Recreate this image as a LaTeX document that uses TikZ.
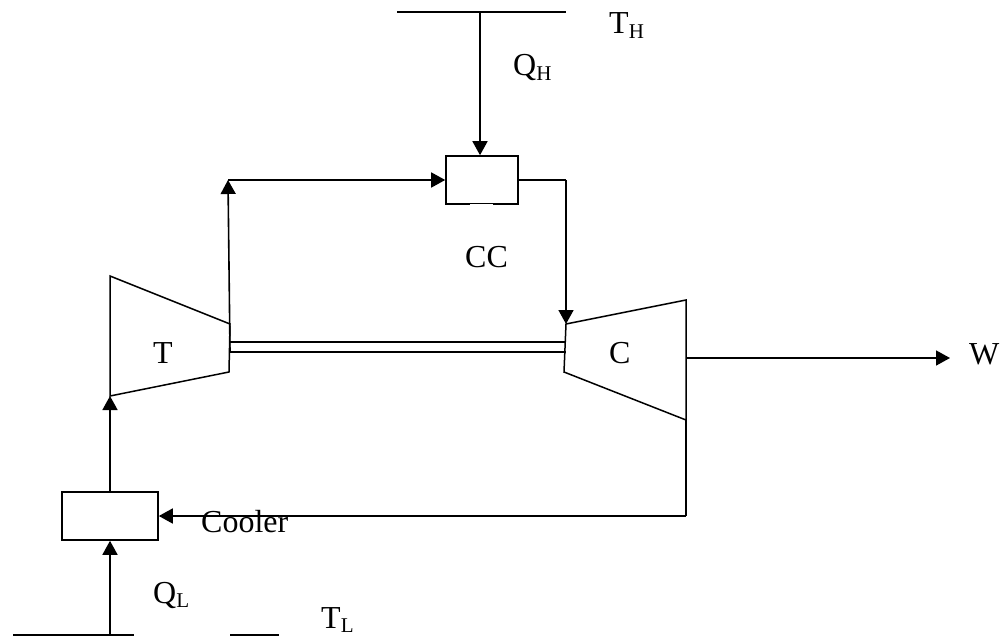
\documentclass[tikz,border=0pt]{standalone}
\usepackage{fontspec}
\setmainfont{Liberation Serif}
\usetikzlibrary{arrows.meta}
\tikzset{
 px/.style={x=1pt,y=-1pt},
 ln/.style={draw=black,line width=1.6pt},
 thin ln/.style={draw=black,line width=1.5pt},
 arr/.style={ln,-{Triangle[length=14pt,width=15pt]}},
 lbl/.style={inner sep=0pt,anchor=base west,font=\fontsize{32}{36}\selectfont},
 box/.style={draw=black,line width=1.6pt,fill=white,inner sep=0pt}
}
\newcommand{\subs}[2]{#1\raisebox{-4.5pt}{\fontsize{21}{21}\selectfont #2}}
\begin{document}
\begin{tikzpicture}[px]
\useasboundingbox (0,0) rectangle (1003,636);
\node[box,minimum width=72pt,minimum height=48pt] (cc) at (482,180) {};
\node[box,minimum width=96pt,minimum height=48pt] (cool) at (110,516) {};
\coordinate (thA) at (397,12); \coordinate (thB) at (566,12); \coordinate (qh) at (480,12);
\coordinate (tlA) at (13,635); \coordinate (tlB) at (134,635); \coordinate (tlC) at (230,635); \coordinate (tlD) at (279,635); \coordinate (ql) at (110,635);
\coordinate (t1) at (110,276); \coordinate (t2) at (230,324); \coordinate (t3) at (229,372); \coordinate (t4) at (110,396);
\coordinate (c1) at (566,324); \coordinate (c2) at (686,300); \coordinate (c3) at (686,420); \coordinate (c4) at (564,372);
\coordinate (upS) at (230,352); \coordinate (up) at (228,180); \coordinate (w) at (950,358); \coordinate (cw) at (686,358); \coordinate (cd) at (686,516); \coordinate (ccr) at (566,180);
\coordinate (sa) at (230,342); \coordinate (sb) at (566,342); \coordinate (sc) at (230,352); \coordinate (sd) at (566,352);
\coordinate (gapA) at (470,204.5); \coordinate (gapB) at (493,204.5);
\draw[ln] (thA)--(thB);
\draw[ln] (tlA)--(tlB);
\draw[ln] (tlC)--(tlD);
\draw[arr] (qh)--(qh |- cc.north);
\draw[arr] (ql)--(cool.south);
\draw[arr] (cool.north)--(t4);
\draw[thin ln] (t2)--(t3)--(t4)--(t1)--cycle;
\draw[thin ln] (c1)--(c2)--(c3)--(c4)--cycle;
\draw[thin ln] (sa)--(sb);
\draw[thin ln] (sc)--(sd);
\draw[arr] (upS)--(up);
\draw[arr] (up)--(cc.west);
\draw[ln] (cc.east)--(ccr);
\draw[arr] (ccr)--(c1);
\draw[arr] (cw)--(w);
\draw[ln] (c3)--(cd);
\draw[arr] (cd)--(cool.east);
\draw[white,line width=0.8pt] (gapA)--(gapB);
\node[lbl] (a) at (609,34) {\subs{T}{H}};
\node[lbl] (b) at (513,76) {\subs{Q}{H}};
\node[lbl] (c) at (465,268) {CC};
\node[lbl] (d) at (153,363) {T};
\node[lbl] (e) at (609,363) {C};
\node[lbl] (f) at (969,364) {W};
\node[lbl] (g) at (201,532) {Cooler};
\node[lbl] (h) at (153,603) {\subs{Q}{L}};
\node[lbl] (i) at (321,628) {\subs{T}{L}};
\end{tikzpicture}
\end{document}
